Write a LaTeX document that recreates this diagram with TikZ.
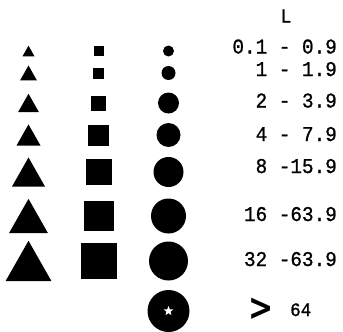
\documentclass[tikz,border=0pt]{standalone}
\usepackage{fontspec}
\newfontfamily\typew[FakeStretch=0.92,FakeBold=1]{Liberation Mono}
\newfontfamily\gtfont{DejaVu Sans}
\usetikzlibrary{shapes.geometric}
\tikzset{
  lbl/.style={inner sep=0pt, anchor=base east, font=\typew\fontsize{21}{21}\selectfont}
}
\begin{document}
\begin{tikzpicture}[x=1pt,y=-1pt]
\useasboundingbox (0,0) rectangle (343,332);
% rows: y, triangle width, square size, circle diameter
\foreach \yy/\tw/\ss/\cd in {51/12/10/11, 73/17/11/14, 103/21/15/21, 135/24/21/24, 172/33/26/30, 216/39/30/35, 261/46/36/39}{
  \fill (28.5-\tw/2, \yy+0.44*\tw) -- (28.5+\tw/2, \yy+0.44*\tw) -- (28.5, \yy-0.44*\tw) -- cycle;
  \fill (98.5-\ss/2, \yy-\ss/2) rectangle (98.5+\ss/2, \yy+\ss/2);
  \fill (168.5, \yy) circle[radius=\cd/2];
}
\fill (168.5,311) circle[radius=21];
\node[star, star points=5, star point ratio=2.3, fill=white, inner sep=0pt, minimum size=10pt] (st) at (168.5,311) {};
\node[inner sep=0pt, font=\typew\fontsize{20}{20}\selectfont] (hdr) at (286,16) {L};
\node[lbl] (r1) at (337,53.5) {0.1 - 0.9};
\node[lbl] (r2) at (337,76) {1 - 1.9};
\node[lbl] (r3) at (337,107.5) {2 - 3.9};
\node[lbl] (r4) at (337,141) {4 - 7.9};
\node[lbl] (r5) at (337,173) {8 -15.9};
\node[lbl] (r6) at (337,221) {16 -63.9};
\node[lbl] (r7) at (337,266) {32 -63.9};
\node[inner sep=0pt, yscale=1.25, font=\gtfont\bfseries\fontsize{30}{30}\selectfont] (gt) at (261.5,309) {>};
\node[inner sep=0pt, anchor=base west, font=\typew\fontsize{19}{19}\selectfont] (r8) at (290,316) {64};
\end{tikzpicture}
\end{document}
